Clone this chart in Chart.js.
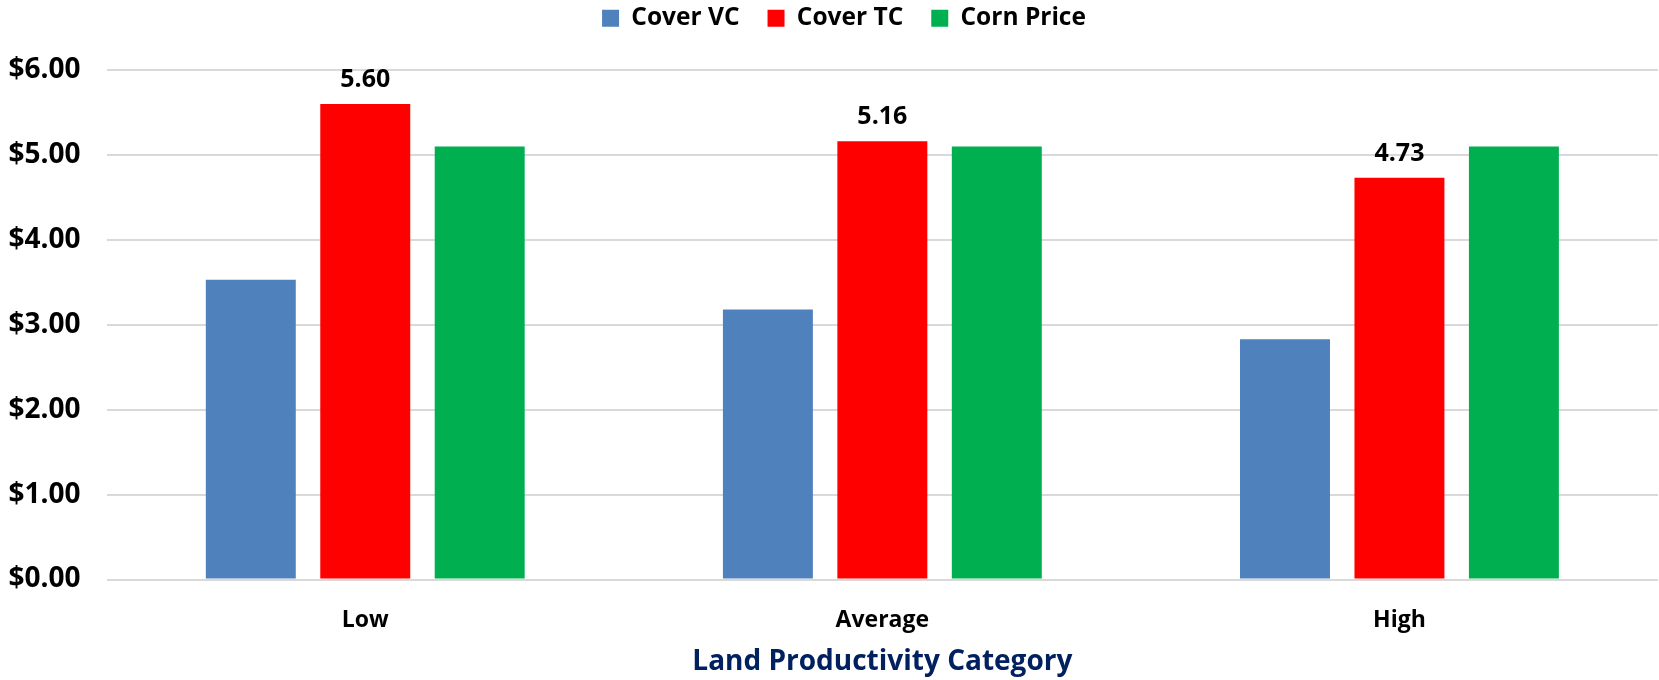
<!DOCTYPE html>
<html lang="en">

<head>
    <meta charset="UTF-8">
    <title>Land Productivity Category</title>
    <script src="https://cdn.jsdelivr.net/npm/chart.js"></script>
    <style>
        html, body { margin: 0; padding: 0; background: #fff; }
        #wrap { width: 1659px; height: 680px; }
    </style>
</head>

<body>
    <div id="wrap">
        <canvas id="costChart" width="1659" height="680"></canvas>
    </div>

    <script>
        // Chart data
        const categories = ['Low', 'Average', 'High'];
        const coverVC = [3.53, 3.18, 2.83];
        const coverTC = [5.60, 5.16, 4.73];
        const cornPrice = [5.10, 5.10, 5.10];
        const yTicks = [0, 1, 2, 3, 4, 5, 6];

        const FONT = "'Open Sans', 'DejaVu Sans', sans-serif";

        // Labels above the Cover TC bars
        const barLabels = {
            id: 'barLabels',
            afterDatasetsDraw(chart) {
                const ctx = chart.ctx;
                const meta = chart.getDatasetMeta(1);
                ctx.save();
                ctx.font = 'bold 25px ' + FONT;
                ctx.fillStyle = '#000';
                ctx.textAlign = 'center';
                ctx.textBaseline = 'alphabetic';
                meta.data.forEach((bar, i) => {
                    ctx.fillText(coverTC[i].toFixed(2), bar.x, bar.y - 17);
                });
                ctx.restore();
            }
        };

        // Room under the legend, and legend centred a bit to the right
        const legendRoom = {
            id: 'legendRoom',
            beforeLayout(chart) {
                const legend = chart.legend;
                if (!legend || legend._roomSet) return;
                const fit = legend.fit;
                legend.fit = function () {
                    fit.call(this);
                    this.height = 92;
                };
                legend._roomSet = true;
            },
            afterLayout(chart) {
                const legend = chart.legend;
                legend.left = 30;
                legend.width = legend.right - legend.left;
            }
        };

        const ctx = document.getElementById('costChart').getContext('2d');

        new Chart(ctx, {
            type: 'bar',
            data: {
                labels: categories,
                datasets: [
                    { label: 'Cover VC', data: coverVC, backgroundColor: '#4F81BD' },
                    { label: 'Cover TC', data: coverTC, backgroundColor: '#FF0000' },
                    { label: 'Corn Price', data: cornPrice, backgroundColor: '#00B050' }
                ]
            },
            options: {
                responsive: false,
                animation: false,
                categoryPercentage: 0.664,
                barPercentage: 0.786,
                layout: { padding: { left: 8.5, right: 1, top: -22, bottom: 0 } },
                plugins: {
                    tooltip: { enabled: false },
                    legend: {
                        position: 'top',
                        labels: {
                            boxWidth: 17,
                            boxHeight: 17,
                            padding: 28,
                            color: '#000',
                            font: { family: FONT, size: 24.5, weight: 'bold' }
                        }
                    }
                },
                scales: {
                    y: {
                        min: 0,
                        max: 6,
                        afterBuildTicks(axis) {
                            axis.ticks = yTicks.map(v => ({ value: v }));
                        },
                        afterFit(axis) {
                            axis.width = 98.2;
                        },
                        border: { display: false },
                        grid: { color: '#D9D9D9', lineWidth: 2, drawTicks: false },
                        ticks: {
                            crossAlign: 'far',
                            padding: 25,
                            color: '#000',
                            font: { family: FONT, size: 28, weight: 'bold' },
                            callback: v => '$' + v.toFixed(2)
                        }
                    },
                    x: {
                        afterFit(axis) {
                            axis.height = 100.5;
                        },
                        border: { display: false },
                        grid: { display: false, drawTicks: false },
                        ticks: {
                            padding: 27,
                            color: '#000',
                            font: { family: FONT, size: 23, weight: 'bold' }
                        },
                        title: {
                            display: true,
                            text: 'Land Productivity Category',
                            color: '#002060',
                            padding: { top: 0, bottom: 1 },
                            font: { family: FONT, size: 28, weight: 'bold' }
                        }
                    }
                }
            },
            plugins: [barLabels, legendRoom]
        });
    </script>
</body>

</html>
